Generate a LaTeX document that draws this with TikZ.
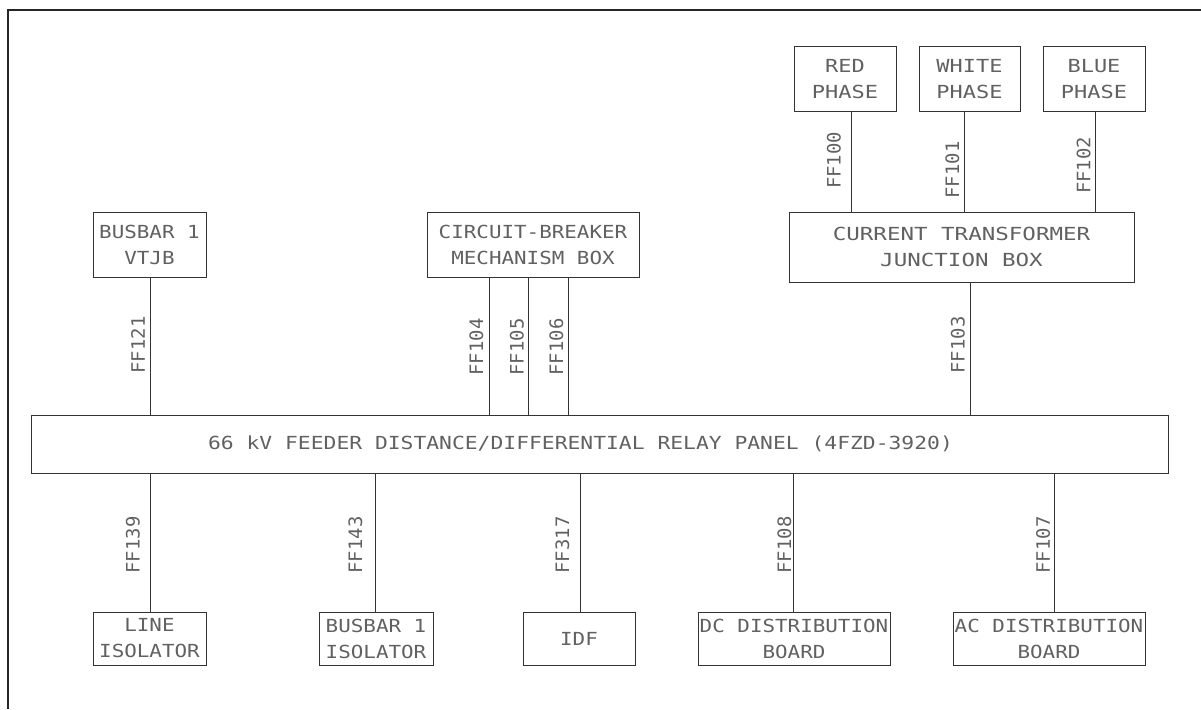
\documentclass[tikz,border=0pt]{standalone}
\usepackage{fontspec}
\newfontfamily\cadfont[FakeStretch=1.16]{DejaVu Sans Mono}
\newfontfamily\panelfont[FakeStretch=1.185]{DejaVu Sans Mono}
\newfontfamily\widefont[FakeStretch=1.25]{DejaVu Sans Mono}
\newfontfamily\phasefont[FakeStretch=1.22]{DejaVu Sans Mono}
\newfontfamily\lblfont[FakeStretch=1.02]{DejaVu Sans Mono}
\begin{document}
\begin{tikzpicture}[x=1pt,y=-1pt,
  box/.style={draw=black!80, line width=1pt, inner sep=0pt, align=center,
    text=black!62, font=\cadfont\fontsize{18}{26}\selectfont},
  widebox/.style={box, font=\widefont\fontsize{18}{26}\selectfont},
  phasebox/.style={box, font=\phasefont\fontsize{18}{26}\selectfont},
  panelbox/.style={box, font=\panelfont\fontsize{18}{26}\selectfont},
  wire/.style={draw=black!80, line width=1pt},
  frame/.style={draw=black!85, line width=1.3pt},
  lbl/.style={rotate=90, inner sep=0pt, text=black!62,
    font=\lblfont\fontsize{18.5}{22}\selectfont},
]
\useasboundingbox (0,0) rectangle (1201,709);
\draw[frame] (8,709) -- (8,10) -- (1201,10);

% top boxes
\node[box, minimum width=113pt, minimum height=65pt] (vtjb) at (149.5,244.5) {BUSBAR 1\\VTJB};
\node[box, minimum width=212pt, minimum height=65pt] (cbmb) at (533,244.5) {CIRCUIT-BREAKER\\MECHANISM BOX};
\node[phasebox, minimum width=102pt, minimum height=64pt] (red) at (845,79) {RED\\PHASE};
\node[phasebox, minimum width=101pt, minimum height=64pt] (white) at (969.5,79) {WHITE\\PHASE};
\node[phasebox, minimum width=102pt, minimum height=64pt] (blue) at (1094,79) {BLUE\\PHASE};
\node[widebox, minimum width=345pt, minimum height=70pt] (ctjb) at (961.5,247) {CURRENT TRANSFORMER\\JUNCTION BOX};

% panel
\node[panelbox, minimum width=1137pt, minimum height=58pt] (panel) at (599.5,444) {66 kV FEEDER DISTANCE/DIFFERENTIAL RELAY PANEL (4FZD-3920)\hspace*{38pt}};

% bottom boxes
\node[box, minimum width=113pt, minimum height=53pt] (liso) at (149.5,638.5) {LINE\\ISOLATOR};
\node[box, minimum width=114pt, minimum height=53pt] (biso) at (376,638.5) {BUSBAR 1\\ISOLATOR};
\node[box, minimum width=112pt, minimum height=53pt] (idf) at (579,638.5) {IDF};
\node[box, minimum width=192pt, minimum height=53pt] (dcdb) at (794,638.5) {DC DISTRIBUTION\\BOARD};
\node[box, minimum width=192pt, minimum height=53pt] (acdb) at (1049,638.5) {AC DISTRIBUTION\\BOARD};

% connectors top
\draw[wire] ([xshift=0.5pt]vtjb.south) -- ([xshift=0.5pt]vtjb.south |- panel.north);
\draw[wire] ([xshift=-44pt]cbmb.south) -- ([xshift=-44pt]cbmb.south |- panel.north);
\draw[wire] ([xshift=-5pt]cbmb.south) -- ([xshift=-5pt]cbmb.south |- panel.north);
\draw[wire] ([xshift=35pt]cbmb.south) -- ([xshift=35pt]cbmb.south |- panel.north);
\draw[wire] ([xshift=6pt]red.south) -- ([xshift=6pt]red.south |- ctjb.north);
\draw[wire] ([xshift=-5.5pt]white.south) -- ([xshift=-5.5pt]white.south |- ctjb.north);
\draw[wire] ([xshift=1pt]blue.south) -- ([xshift=1pt]blue.south |- ctjb.north);
\draw[wire] ([xshift=8.5pt]ctjb.south) -- ([xshift=8.5pt]ctjb.south |- panel.north);

% connectors bottom
\draw[wire] ([xshift=0.5pt]liso.north) -- ([xshift=0.5pt]liso.north |- panel.south);
\draw[wire] ([xshift=-1pt]biso.north) -- ([xshift=-1pt]biso.north |- panel.south);
\draw[wire] ([xshift=1pt]idf.north) -- ([xshift=1pt]idf.north |- panel.south);
\draw[wire] ([xshift=-1pt]dcdb.north) -- ([xshift=-1pt]dcdb.north |- panel.south);
\draw[wire] ([xshift=5pt]acdb.north) -- ([xshift=5pt]acdb.north |- panel.south);

% labels
\node[lbl] (l121) at (138,345) {FF121};
\node[lbl] (l104) at (476.5,347) {FF104};
\node[lbl] (l105) at (517,347) {FF105};
\node[lbl] (l106) at (556.5,347) {FF106};
\node[lbl] (l103) at (958,345) {FF103};
\node[lbl] (l100) at (834,160.5) {FF100};
\node[lbl] (l101) at (952.5,170) {FF101};
\node[lbl] (l102) at (1083.5,165.5) {FF102};
\node[lbl] (l139) at (133,545) {FF139};
\node[lbl] (l143) at (355.5,545) {FF143};
\node[lbl] (l317) at (562.5,545) {FF317};
\node[lbl] (l108) at (784.5,545) {FF108};
\node[lbl] (l107) at (1043,545) {FF107};
\end{tikzpicture}
\end{document}
